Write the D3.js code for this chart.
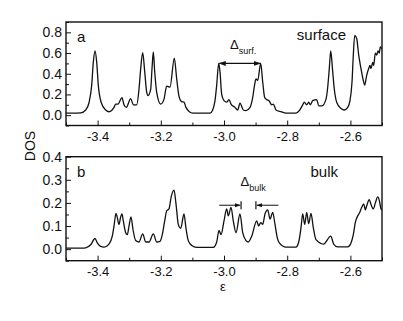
<!DOCTYPE html>
<html>
<head>
<meta charset="utf-8">
<script src="https://cdn.jsdelivr.net/npm/d3@7"></script>
<style>
  body { margin: 0; background: #fff; }
  text { font-family: "Liberation Sans", Arial, Helvetica, sans-serif; fill: #111; }
</style>
</head>
<body>
<div id="chart"></div>
<script>
// energy axis (shared by both panels)
const epsDomain = [-3.5, -2.5];
const epsMajor = [-3.4, -3.2, -3.0, -2.8, -2.6];
const epsMinor = [-3.5, -3.3, -3.1, -2.9, -2.7, -2.5];

// panel a : surface DOS as [eps, dos]
const surfYMajor = [0, 0.2, 0.4, 0.6, 0.8];
const surfYMinor = [-0.1, 0.1, 0.3, 0.5, 0.7, 0.9];
const surfaceData = [
  [-3.5, 0.02], [-3.48, 0.02], [-3.4535, 0.022], [-3.4377, 0.05], [-3.4272, 0.12], [-3.4187, 0.29],
  [-3.4136, 0.51], [-3.4082, 0.62], [-3.4028, 0.51], [-3.3978, 0.29], [-3.3883, 0.12], [-3.3744, 0.05],
  [-3.3639, 0.033], [-3.3481, 0.075], [-3.3427, 0.107], [-3.3354, 0.107], [-3.3228, 0.17], [-3.3165, 0.1],
  [-3.3092, 0.075], [-3.2953, 0.16], [-3.287, 0.1], [-3.2763, 0.1], [-3.269, 0.25], [-3.2636, 0.45],
  [-3.2573, 0.605], [-3.2509, 0.42], [-3.2446, 0.22], [-3.2405, 0.19], [-3.232, 0.25], [-3.2278, 0.45],
  [-3.2237, 0.61], [-3.2193, 0.42], [-3.213, 0.22], [-3.2003, 0.107], [-3.1899, 0.155], [-3.1813, 0.28],
  [-3.1709, 0.27], [-3.1573, 0.55], [-3.1497, 0.35], [-3.1415, 0.17], [-3.1339, 0.13], [-3.1266, 0.125],
  [-3.1203, 0.075], [-3.1098, 0.033], [-3.0981, 0.02], [-3.0443, 0.02], [-3.0358, 0.05], [-3.0285, 0.14],
  [-3.0231, 0.29], [-3.0168, 0.5], [-3.0127, 0.42], [-3.0073, 0.2], [-3.0, 0.14], [-2.9915, 0.125],
  [-2.9842, 0.15], [-2.9778, 0.107], [-2.9652, 0.075], [-2.9566, 0.05], [-2.9494, 0.117], [-2.9389, 0.05],
  [-2.9304, 0.043], [-2.9177, 0.075], [-2.9092, 0.17], [-2.9028, 0.3], [-2.8987, 0.35], [-2.8934, 0.335],
  [-2.8839, 0.5], [-2.8775, 0.32], [-2.8712, 0.17], [-2.8649, 0.15], [-2.8576, 0.14], [-2.8491, 0.1],
  [-2.844, 0.107], [-2.8354, 0.05], [-2.8196, 0.033], [-2.8038, 0.02], [-2.7722, 0.02], [-2.7617, 0.043],
  [-2.7509, 0.1], [-2.7459, 0.125], [-2.7383, 0.1], [-2.732, 0.125], [-2.7269, 0.1], [-2.7193, 0.14],
  [-2.7066, 0.15], [-2.7003, 0.09], [-2.6899, 0.09], [-2.6772, 0.155], [-2.6718, 0.27], [-2.6668, 0.45],
  [-2.6623, 0.62], [-2.656, 0.42], [-2.6509, 0.25], [-2.6434, 0.125], [-2.6297, 0.065], [-2.6193, 0.05],
  [-2.6085, 0.075], [-2.6013, 0.14], [-2.5949, 0.32], [-2.5908, 0.58], [-2.5864, 0.77], [-2.5801, 0.74],
  [-2.5737, 0.58], [-2.5665, 0.45], [-2.5592, 0.335], [-2.5548, 0.29], [-2.5484, 0.385], [-2.5421, 0.45],
  [-2.538, 0.48], [-2.5348, 0.45], [-2.5294, 0.51], [-2.5263, 0.48], [-2.5212, 0.6], [-2.5168, 0.58],
  [-2.5127, 0.62], [-2.5085, 0.6], [-2.5054, 0.66], [-2.5, 0.64]
];

// panel b : bulk DOS
const bulkYMajor = [0, 0.1, 0.2, 0.3, 0.4];
const bulkYMinor = [-0.05, 0.05, 0.15, 0.25, 0.35];
const bulkData = [
  [-3.5, 0.004], [-3.45, 0.004], [-3.4377, 0.006], [-3.4218, 0.019], [-3.4082, 0.046], [-3.4009, 0.027],
  [-3.3902, 0.012], [-3.3797, 0.009], [-3.3639, 0.022], [-3.3535, 0.056], [-3.3481, 0.1], [-3.3418, 0.155],
  [-3.3377, 0.137], [-3.3323, 0.107], [-3.3269, 0.14], [-3.3228, 0.152], [-3.3187, 0.122], [-3.3111, 0.071],
  [-3.306, 0.063], [-3.3006, 0.1], [-3.2943, 0.14], [-3.288, 0.085], [-3.2794, 0.037], [-3.269, 0.031],
  [-3.2573, 0.066], [-3.2478, 0.031], [-3.2373, 0.031], [-3.2237, 0.066], [-3.213, 0.031], [-3.2025, 0.034],
  [-3.1953, 0.063], [-3.1877, 0.122], [-3.1813, 0.166], [-3.1741, 0.174], [-3.1668, 0.228], [-3.1582, 0.255],
  [-3.1519, 0.196], [-3.1446, 0.107], [-3.137, 0.09], [-3.1266, 0.152], [-3.1203, 0.09], [-3.113, 0.037],
  [-3.1022, 0.016], [-3.0864, 0.008], [-3.0339, 0.008], [-3.0231, 0.031], [-3.0158, 0.081], [-3.0095, 0.063],
  [-3.0, 0.122], [-2.9915, 0.174], [-2.9864, 0.144], [-2.9778, 0.181], [-2.9706, 0.122], [-2.962, 0.071],
  [-2.9494, 0.152], [-2.9408, 0.071], [-2.9304, 0.037], [-2.9231, 0.031], [-2.9123, 0.056], [-2.8965, 0.122],
  [-2.8902, 0.1], [-2.8839, 0.115], [-2.8775, 0.107], [-2.8703, 0.152], [-2.8617, 0.17], [-2.8544, 0.13],
  [-2.8459, 0.159], [-2.8386, 0.107], [-2.8313, 0.049], [-2.825, 0.027], [-2.8038, 0.009], [-2.7722, 0.009],
  [-2.7636, 0.031], [-2.7563, 0.093], [-2.7509, 0.152], [-2.7446, 0.107], [-2.7383, 0.159], [-2.732, 0.11],
  [-2.7247, 0.155], [-2.7174, 0.093], [-2.7089, 0.041], [-2.685, 0.022], [-2.662, 0.056], [-2.653, 0.022],
  [-2.64, 0.01], [-2.6085, 0.01], [-2.5981, 0.027], [-2.5908, 0.063], [-2.5845, 0.115], [-2.5769, 0.144],
  [-2.5718, 0.155], [-2.5642, 0.181], [-2.5579, 0.196], [-2.5528, 0.17], [-2.5484, 0.188], [-2.5402, 0.214],
  [-2.5348, 0.193], [-2.5275, 0.174], [-2.5212, 0.199], [-2.5136, 0.226], [-2.5085, 0.211], [-2.5032, 0.174],
  [-2.5, 0.17]
];

// gap markers (eps positions)
const surfGap = [-3.015, -2.885];
const bulkGap = [-3.015, -2.946, -2.899, -2.828];

const width = 403, height = 321;
const svg = d3.select("#chart").append("svg")
  .attr("width", width).attr("height", height);

const defs = svg.append("defs");
defs.append("marker").attr("id", "ah")
  .attr("viewBox", "0 0 10 10").attr("refX", 9).attr("refY", 5)
  .attr("markerWidth", 6).attr("markerHeight", 6).attr("orient", "auto-start-reverse")
  .append("path").attr("d", "M0,1.5 L10,5 L0,8.5 z").attr("fill", "#111");

const x = d3.scaleLinear().domain(epsDomain).range([66, 382]);
const fmt = d => d.toFixed(1);

function drawPanel(id, data, yDomain, yRange, yMajor, yMinor) {
  const y = d3.scaleLinear().domain(yDomain).range(yRange);
  const g = svg.append("g");

  defs.append("clipPath").attr("id", "clip-" + id)
    .append("rect").attr("x", x.range()[0]).attr("y", yRange[1])
    .attr("width", x.range()[1] - x.range()[0]).attr("height", yRange[0] - yRange[1]);

  // axes, ticks pointing inward
  g.append("g").attr("class", "xax").attr("transform", `translate(0,${yRange[0]})`)
    .call(d3.axisBottom(x).tickValues(epsMajor).tickSize(-5).tickPadding(6).tickFormat(fmt));
  g.append("g").attr("transform", `translate(0,${yRange[0]})`)
    .call(d3.axisBottom(x).tickValues(epsMinor).tickSize(-3).tickFormat(""));
  g.append("g").attr("class", "yax").attr("transform", `translate(${x.range()[0]},0)`)
    .call(d3.axisLeft(y).tickValues(yMajor).tickSize(-5).tickPadding(4).tickFormat(fmt));
  g.append("g").attr("transform", `translate(${x.range()[0]},0)`)
    .call(d3.axisLeft(y).tickValues(yMinor).tickSize(-3).tickFormat(""));

  g.selectAll(".domain").remove();
  g.selectAll(".tick line").attr("stroke", "#111").attr("stroke-width", 1);
  g.selectAll(".tick text").attr("fill", "#111")
    .style("font-family", '"Liberation Sans", Arial, sans-serif');
  g.selectAll(".xax .tick text").attr("font-size", 13);
  g.selectAll(".yax .tick text").attr("font-size", 14);

  g.append("path").datum(data)
    .attr("clip-path", `url(#clip-${id})`)
    .attr("fill", "none").attr("stroke", "#111").attr("stroke-width", 1.3)
    .attr("d", d3.line().x(d => x(d[0])).y(d => y(d[1])).curve(d3.curveMonotoneX));

  g.append("rect")
    .attr("x", x.range()[0]).attr("y", yRange[1])
    .attr("width", x.range()[1] - x.range()[0]).attr("height", yRange[0] - yRange[1])
    .attr("fill", "none").attr("stroke", "#111").attr("stroke-width", 1.4);

  return y;
}

const yA = drawPanel("a", surfaceData, [-0.1, 0.9], [125.5, 22], surfYMajor, surfYMinor);
const yB = drawPanel("b", bulkData, [-0.05, 0.4], [260.7, 156.7], bulkYMajor, bulkYMinor);

// panel letters and titles
svg.append("text").attr("x", 77).attr("y", 42).attr("font-size", 15).text("a");
svg.append("text").attr("x", 346).attr("y", 40).attr("font-size", 15)
  .attr("text-anchor", "end").text("surface");
svg.append("text").attr("x", 77).attr("y", 177).attr("font-size", 15).text("b");
svg.append("text").attr("x", 338).attr("y", 177).attr("font-size", 15)
  .attr("text-anchor", "end").text("bulk");

// Δ surf : double arrow between the two peaks
svg.append("line")
  .attr("x1", x(surfGap[0])).attr("x2", x(surfGap[1]))
  .attr("y1", yA(0.5)).attr("y2", yA(0.5))
  .attr("stroke", "#111").attr("stroke-width", 1.2)
  .attr("marker-start", "url(#ah)").attr("marker-end", "url(#ah)");
const ds = svg.append("text").attr("x", 230).attr("y", 49).attr("font-size", 13);
ds.append("tspan").text("Δ");
ds.append("tspan").attr("dy", 5).attr("font-size", 9).text("surf.");

// Δ bulk : two arrows pointing at bars
const yb = yB(0.19);
svg.append("line").attr("x1", x(bulkGap[0])).attr("x2", x(bulkGap[1]) - 1)
  .attr("y1", yb).attr("y2", yb).attr("stroke", "#111").attr("stroke-width", 1)
  .attr("marker-end", "url(#ah)");
svg.append("line").attr("x1", x(bulkGap[3])).attr("x2", x(bulkGap[2]) + 1)
  .attr("y1", yb).attr("y2", yb).attr("stroke", "#111").attr("stroke-width", 1)
  .attr("marker-end", "url(#ah)");
[bulkGap[1], bulkGap[2]].forEach(e => {
  svg.append("line").attr("x1", x(e)).attr("x2", x(e))
    .attr("y1", yb - 4).attr("y2", yb + 4).attr("stroke", "#111").attr("stroke-width", 1.2);
});
const db = svg.append("text").attr("x", 240.5).attr("y", 186).attr("font-size", 13);
db.append("tspan").text("Δ");
db.append("tspan").attr("dy", 5).attr("font-size", 9).text("bulk");

// axis titles
svg.append("text").attr("transform", "translate(35,146) rotate(-90)")
  .attr("text-anchor", "middle").attr("font-size", 14).text("DOS");
svg.append("text").attr("x", 223).attr("y", 291)
  .attr("text-anchor", "middle").attr("font-size", 13).text("ε");
</script>
</body>
</html>
